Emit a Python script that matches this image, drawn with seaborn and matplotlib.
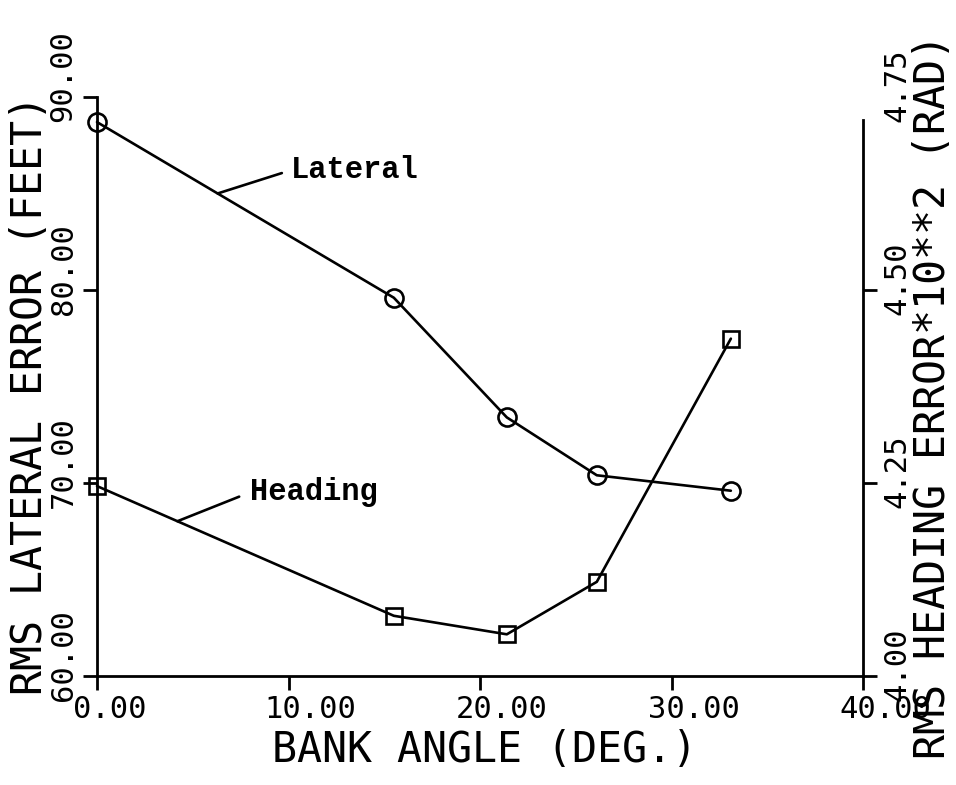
import numpy as np
import matplotlib
matplotlib.use("Agg")
import matplotlib.pyplot as plt
import matplotlib.transforms as mtransforms
import seaborn as sns

# Bank angle (deg) and the two RMS error series
bank_angle = [0.0, 15.5, 21.4, 26.1, 33.1]
lateral_error = [88.7, 79.6, 73.4, 70.4, 69.6]       # feet, left axis
heading_error = [4.246, 4.078, 4.054, 4.122, 4.437]  # rad*10**2, right axis

x_ticks = [0, 10, 20, 30, 40]
x_tick_labels = ["0.00", "10.00", "20.00", "30.00", "40.00"]
left_ticks = [60, 70, 80, 90]
left_tick_labels = ["60.00", "70.00", "80.00", "90.00"]
right_ticks = [4.00, 4.25, 4.50, 4.75]
right_tick_labels = ["4.00", "4.25", "4.50", "4.75"]

sns.set_style("white")
plt.rcParams["font.family"] = ["DejaVu Sans Mono", "DejaVu Sans"]
plt.rcParams["text.color"] = "black"

W, H = 956, 785
fig = plt.figure(figsize=(W / 100, H / 100), dpi=100)
ax = fig.add_axes([97 / W, 1 - 676 / H, 766 / W, 579 / H])
ax2 = ax.twinx()
ax.patch.set_alpha(0)

line_kw = dict(color="black", linewidth=1.9, markerfacecolor="none",
               markeredgecolor="black", markeredgewidth=1.9, clip_on=False)
sns.lineplot(x=bank_angle, y=lateral_error, ax=ax, marker="o",
             markersize=13, sort=False, **line_kw)
sns.lineplot(x=bank_angle, y=heading_error, ax=ax2, marker="s",
             markersize=11, sort=False, **line_kw)

ax.set_xlim(0, 40)
ax.set_ylim(60, 90)
ax2.set_ylim(4.0, 4.75)

ax.set_xticks(x_ticks, labels=x_tick_labels)
ax.set_yticks(left_ticks, labels=left_tick_labels)
ax2.set_yticks(right_ticks, labels=right_tick_labels)

for a in (ax, ax2):
    for s in a.spines.values():
        s.set_visible(False)
        s.set_linewidth(2.0)
        s.set_color("black")
ax.spines["left"].set_visible(True)
ax.spines["bottom"].set_visible(True)
ax2.spines["right"].set_visible(True)
ax2.spines["right"].set_bounds(4.0, 4.72)

tick_kw = dict(direction="out", length=10, width=2.0, color="black",
               labelcolor="black", labelsize=22, pad=4)
ax.tick_params(axis="x", bottom=True, **tick_kw)
ax.tick_params(axis="y", left=True, **tick_kw)
ax2.tick_params(axis="y", right=True, left=False, **tick_kw)
ax2.yaxis.get_major_ticks()[-1].tick2line.set_visible(False)

# Tick labels: rotated on the y axes, start-aligned a little before each tick
def shift(lbl, dx_px, dy_px):
    lbl.set_transform(lbl.get_transform() +
                      mtransforms.ScaledTranslation(dx_px / 100, dy_px / 100,
                                                    fig.dpi_scale_trans))

for lbl in ax.get_xticklabels():
    lbl.set_horizontalalignment("left")
    shift(lbl, -24, 0)
for lbl in ax.get_yticklabels():
    lbl.set_rotation(90)
    lbl.set_verticalalignment("bottom")
    shift(lbl, 0, -25)
for lbl in ax2.get_yticklabels():
    lbl.set_rotation(90)
    lbl.set_verticalalignment("bottom")
    shift(lbl, 0, -25)

label_kw = dict(fontsize=30, color="black")
ax.set_xlabel("BANK ANGLE (DEG.)", **label_kw)
ax.set_ylabel("RMS LATERAL ERROR (FEET)", **label_kw)
ax2.set_ylabel("RMS HEADING ERROR*10**2 (RAD)", **label_kw)
ax.xaxis.set_label_coords(0.5065, -0.0915)
ax.yaxis.set_label_coords(-0.060, 0.485)
ax2.yaxis.set_label_coords(1.064, 0.482)

# Curve labels with leader lines
note_kw = dict(fontsize=22, family=["Liberation Mono", "DejaVu Sans Mono"],
               fontweight="bold", ha="left", va="center", color="black")
lat_x = 6.3
ax.annotate("Lateral", xy=(lat_x, np.interp(lat_x, bank_angle, lateral_error)),
            xytext=(10.1, 86.2), annotation_clip=False,
            arrowprops=dict(arrowstyle="-", color="black", lw=1.9,
                            relpos=(0, 0.5), shrinkA=4, shrinkB=0),
            **note_kw)
hdg_x = 4.2
ax2.annotate("Heading", xy=(hdg_x, np.interp(hdg_x, bank_angle, heading_error)),
             xytext=(8.0, 4.238), annotation_clip=False,
             arrowprops=dict(arrowstyle="-", color="black", lw=1.9,
                             relpos=(0, 0.5), shrinkA=6, shrinkB=0),
             **note_kw)

fig.savefig("out.png", dpi=100, facecolor="white")
